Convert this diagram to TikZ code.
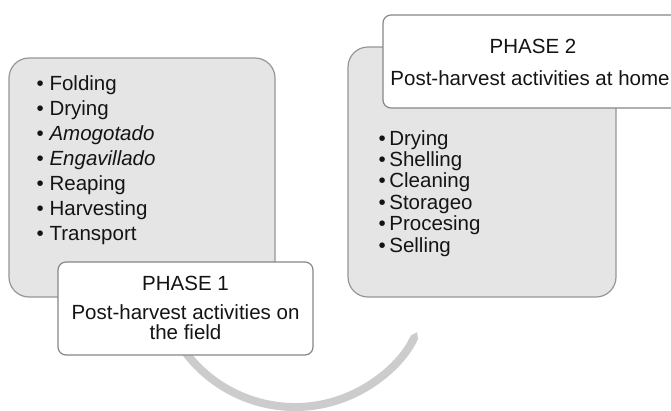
\documentclass[tikz,border=0pt]{standalone}
\usepackage{fontspec}
\setmainfont{Liberation Sans}
\usetikzlibrary{arrows.meta}
\definecolor{boxgray}{RGB}{229,229,229}
\definecolor{boxline}{RGB}{150,150,150}
\definecolor{cardline}{RGB}{135,135,135}
\definecolor{arcgray}{RGB}{204,204,204}
\definecolor{txt}{RGB}{20,20,20}
\begin{document}
\begin{tikzpicture}[x=1pt,y=-1pt,
  graybox/.style={draw=boxline,line width=1.2pt,fill=boxgray,rounded corners=20pt,inner sep=0pt},
  card/.style={draw=cardline,line width=1.2pt,fill=white,rounded corners=8pt,inner sep=0pt},
  label/.style={inner sep=0pt,text=txt,font=\fontsize{20.5}{24}\selectfont},
  item/.style={label,anchor=base west},
  title/.style={label,anchor=base}]
\useasboundingbox (0,0) rectangle (671,410);
\clip (0,0) rectangle (671,410);
\fill[white] (0,0) rectangle (671,410);
% curved connector
\coordinate (c) at (295,270);
\draw[arcgray,line width=8pt,-{Triangle Cap[cap angle=70]}] ([shift={(160:137)}]c) coordinate (arcstart) arc[start angle=160,end angle=27,radius=137] coordinate (arcend);
% phase 1
\node[graybox,minimum width=266pt,minimum height=239pt] (g1) at (142,177.5) {};
\node[card,minimum width=255pt,minimum height=93pt] (p1) at (185.5,308.5) {};
\node[title] (t1) at (185.5,290) {PHASE 1};
\node[title] (s1a) at (185.5,319) {Post-harvest activities on};
\node[title] (s1b) at (185.5,339) {the field};
\node[item] (a1) at (36.5,90) {• Folding};
\node[item] (a2) at (36.5,115) {• Drying};
\node[item] (a3) at (36.5,140) {• \textit{Amogotado}};
\node[item] (a4) at (36.5,165) {• \textit{Engavillado}};
\node[item] (a5) at (36.5,190) {• Reaping};
\node[item] (a6) at (36.5,215) {• Harvesting};
\node[item] (a7) at (36.5,240) {• Transport};
% phase 2
\node[graybox,minimum width=268pt,minimum height=250pt] (g2) at (482,172) {};
\node[card,minimum width=300pt,minimum height=93pt] (p2) at (533,61.5) {};
\node[title] (t2) at (533,53) {PHASE 2};
\node[title] (s2) at (530,85) {Post-harvest activities at home};
\node[item] (b1) at (378.5,145) {•\hspace{3.5pt}Drying};
\node[item] (b2) at (378.5,166.4) {•\hspace{3.5pt}Shelling};
\node[item] (b3) at (378.5,187.8) {•\hspace{3.5pt}Cleaning};
\node[item] (b4) at (378.5,209.2) {•\hspace{3.5pt}Storageo};
\node[item] (b5) at (378.5,230.6) {•\hspace{3.5pt}Procesing};
\node[item] (b6) at (378.5,252) {•\hspace{3.5pt}Selling};
\end{tikzpicture}
\end{document}
